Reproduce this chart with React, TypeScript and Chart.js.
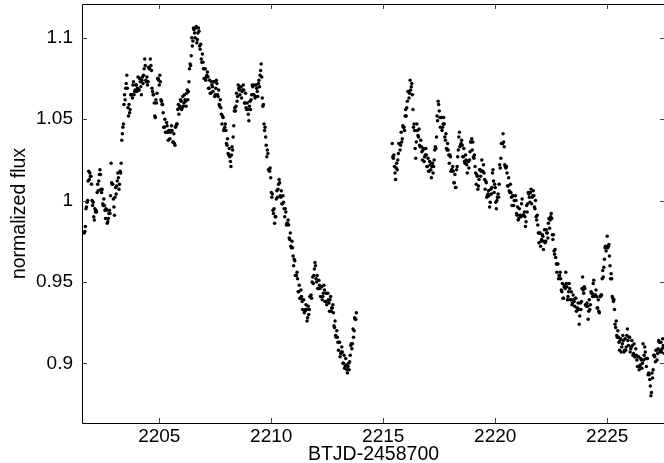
import { useEffect, useRef } from "react";
import Chart from "chart.js/auto";

// Light curve on a fixed cadence (days). Each orbit is stored as two interleaved
// sample runs (A on the grid, B half a step later); the orbits are split by a data gap.
const CADENCE = 0.05;

const ORBIT1_START_A = 2201.65;
const ORBIT1_FLUX_A = [
  0.980, 0.984, 0.996, 1.000, 1.018, 1.017, 1.015, 1.000, 0.999, 0.988,
  0.993, 0.993, 1.010, 1.012, 1.019, 1.007, 1.007, 0.997, 0.997, 0.989,
  0.994, 0.987, 0.992, 0.992, 1.023, 1.010, 1.001, 0.991, 1.008, 1.009,
  1.017, 1.007, 1.018, 1.023, 1.041, 1.047, 1.065, 1.069, 1.077, 1.057,
  1.059, 1.056, 1.065, 1.063, 1.073, 1.067, 1.071, 1.067, 1.076, 1.068,
  1.073, 1.065, 1.076, 1.077, 1.087, 1.074, 1.076, 1.073, 1.081, 1.087,
  1.080, 1.067, 1.065, 1.052, 1.062, 1.066, 1.075, 1.071, 1.073, 1.061,
  1.059, 1.045, 1.050, 1.042, 1.046, 1.037, 1.043, 1.042, 1.046, 1.036,
  1.041, 1.034, 1.046, 1.047, 1.059, 1.057, 1.062, 1.056, 1.064, 1.060,
  1.062, 1.058, 1.068, 1.067, 1.081, 1.083, 1.100, 1.098, 1.105, 1.100,
  1.107, 1.099, 1.106, 1.095, 1.096, 1.085, 1.085, 1.075, 1.081, 1.076,
  1.079, 1.069, 1.074, 1.066, 1.071, 1.067, 1.073, 1.065, 1.074, 1.065,
  1.068, 1.058, 1.057, 1.047, 1.051, 1.044, 1.047, 1.035, 1.038, 1.028,
  1.027, 1.021, 1.033, 1.039, 1.055, 1.055, 1.066, 1.064, 1.069, 1.065,
  1.070, 1.067, 1.071, 1.060, 1.066, 1.056, 1.056, 1.049, 1.061, 1.062,
  1.071, 1.065, 1.071, 1.064, 1.069, 1.064, 1.074, 1.077, 1.084, 1.063,
  1.059, 1.043, 1.039, 1.027, 1.029, 1.019, 1.020, 1.005, 1.004, 0.992,
  0.986, 0.990, 1.006, 1.007, 1.013, 1.003, 1.006, 0.998, 0.999, 0.990,
  0.993, 0.986, 0.988, 0.977, 0.980, 0.971, 0.971, 0.960, 0.963, 0.954,
  0.956, 0.944, 0.948, 0.940, 0.941, 0.933, 0.939, 0.932, 0.936, 0.926,
  0.935, 0.933, 0.941, 0.940, 0.953, 0.954, 0.962, 0.952, 0.954, 0.946,
  0.948, 0.941, 0.947, 0.941, 0.948, 0.938, 0.943, 0.938, 0.939, 0.932,
  0.941, 0.934, 0.936, 0.923, 0.926, 0.916, 0.916, 0.908, 0.913, 0.906,
  0.910, 0.900, 0.905, 0.898, 0.899, 0.894, 0.900, 0.901, 0.911, 0.909,
  0.921, 0.920, 0.927, 0.931,
];

const ORBIT1_START_B = 2201.675;
const ORBIT1_FLUX_B = [
  0.981, 0.995, 0.999, 1.012, 1.013, 1.015, 1.010, 0.997, 0.990, 0.995,
  0.994, 1.005, 1.006, 1.016, 1.016, 1.005, 0.998, 1.001, 0.994, 0.995,
  0.986, 0.989, 0.994, 1.003, 1.011, 1.010, 0.996, 1.002, 1.004, 1.012,
  1.014, 1.010, 1.017, 1.037, 1.045, 1.059, 1.062, 1.072, 1.069, 1.052,
  1.054, 1.065, 1.065, 1.071, 1.065, 1.068, 1.071, 1.069, 1.068, 1.075,
  1.070, 1.074, 1.072, 1.081, 1.083, 1.073, 1.071, 1.082, 1.081, 1.083,
  1.069, 1.065, 1.060, 1.051, 1.060, 1.075, 1.074, 1.077, 1.062, 1.059,
  1.054, 1.045, 1.042, 1.048, 1.042, 1.043, 1.038, 1.043, 1.043, 1.036,
  1.035, 1.045, 1.047, 1.056, 1.053, 1.058, 1.061, 1.057, 1.058, 1.065,
  1.061, 1.066, 1.062, 1.073, 1.084, 1.089, 1.095, 1.106, 1.103, 1.106,
  1.097, 1.103, 1.104, 1.093, 1.087, 1.090, 1.081, 1.081, 1.074, 1.077,
  1.076, 1.069, 1.066, 1.073, 1.070, 1.073, 1.064, 1.069, 1.072, 1.064,
  1.059, 1.062, 1.053, 1.052, 1.043, 1.045, 1.043, 1.034, 1.029, 1.032,
  1.024, 1.028, 1.031, 1.046, 1.057, 1.058, 1.061, 1.071, 1.068, 1.070,
  1.063, 1.068, 1.068, 1.060, 1.057, 1.060, 1.053, 1.058, 1.056, 1.065,
  1.070, 1.065, 1.063, 1.071, 1.067, 1.072, 1.070, 1.080, 1.076, 1.058,
  1.047, 1.045, 1.034, 1.031, 1.019, 1.018, 1.014, 1.002, 0.994, 0.995,
  0.990, 1.001, 1.002, 1.010, 1.011, 1.002, 0.998, 1.003, 0.995, 0.995,
  0.985, 0.986, 0.985, 0.976, 0.972, 0.975, 0.966, 0.964, 0.954, 0.954,
  0.952, 0.944, 0.940, 0.945, 0.938, 0.939, 0.931, 0.933, 0.933, 0.928,
  0.930, 0.941, 0.942, 0.950, 0.949, 0.958, 0.960, 0.950, 0.946, 0.951,
  0.946, 0.947, 0.939, 0.943, 0.945, 0.938, 0.936, 0.943, 0.937, 0.939,
  0.932, 0.934, 0.931, 0.922, 0.917, 0.920, 0.913, 0.913, 0.904, 0.907,
  0.907, 0.900, 0.897, 0.903, 0.896, 0.898, 0.896, 0.905, 0.912, 0.912,
  0.916, 0.928, 0.927,
];

const ORBIT2_START_A = 2215.4;
const ORBIT2_FLUX_A = [
  1.035, 1.026, 1.021, 1.013, 1.023, 1.025, 1.035, 1.031, 1.042, 1.038,
  1.045, 1.043, 1.056, 1.057, 1.067, 1.063, 1.074, 1.070, 1.065, 1.045,
  1.043, 1.026, 1.047, 1.040, 1.044, 1.033, 1.033, 1.025, 1.032, 1.027,
  1.032, 1.021, 1.026, 1.018, 1.022, 1.014, 1.023, 1.021, 1.031, 1.032,
  1.052, 1.061, 1.055, 1.045, 1.051, 1.045, 1.051, 1.039, 1.041, 1.031,
  1.031, 1.023, 1.027, 1.019, 1.021, 1.011, 1.016, 1.008, 1.021, 1.031,
  1.042, 1.034, 1.037, 1.027, 1.032, 1.023, 1.025, 1.017, 1.024, 1.025,
  1.036, 1.038, 1.036, 1.026, 1.021, 1.010, 1.015, 1.009, 1.019, 1.015,
  1.025, 1.018, 1.017, 1.007, 1.011, 1.003, 1.006, 0.996, 1.007, 1.008,
  1.019, 1.005, 1.008, 0.995, 1.002, 1.002, 1.022, 1.026, 1.035, 1.041,
  1.033, 1.021, 1.021, 1.009, 1.014, 1.005, 1.005, 0.997, 1.003, 1.000,
  1.003, 0.992, 0.996, 0.989, 0.991, 0.990, 1.001, 0.991, 0.993, 0.984,
  0.997, 0.998, 1.004, 0.999, 1.007, 1.002, 1.006, 0.996, 1.000, 0.988,
  0.985, 0.974, 0.980, 0.975, 0.979, 0.970, 0.982, 0.975, 0.980, 0.977,
  0.989, 0.988, 0.992, 0.979, 0.979, 0.967, 0.965, 0.956, 0.961, 0.954,
  0.956, 0.945, 0.949, 0.940, 0.948, 0.956, 0.947, 0.941, 0.949, 0.939,
  0.944, 0.937, 0.939, 0.935, 0.940, 0.934, 0.937, 0.924, 0.937, 0.938,
  0.953, 0.943, 0.946, 0.936, 0.937, 0.927, 0.939, 0.936, 0.943, 0.941,
  0.951, 0.942, 0.945, 0.934, 0.939, 0.931, 0.941, 0.942, 0.957, 0.959,
  0.971, 0.969, 0.978, 0.972, 0.966, 0.952, 0.952, 0.940, 0.939, 0.924,
  0.926, 0.916, 0.916, 0.908, 0.915, 0.910, 0.917, 0.907, 0.915, 0.910,
  0.921, 0.911, 0.916, 0.909, 0.914, 0.905, 0.912, 0.904, 0.905, 0.898,
  0.904, 0.898, 0.903, 0.897, 0.912, 0.905, 0.907, 0.898, 0.903, 0.894,
  0.890, 0.880, 0.894, 0.896, 0.905, 0.901, 0.908, 0.906, 0.914, 0.907,
  0.913, 0.909, 0.911, 0.906,
];

const ORBIT2_START_B = 2215.425;
const ORBIT2_FLUX_B = [
  1.027, 1.028, 1.017, 1.020, 1.019, 1.029, 1.035, 1.034, 1.036, 1.046,
  1.045, 1.052, 1.052, 1.061, 1.067, 1.066, 1.068, 1.072, 1.056, 1.047,
  1.032, 1.036, 1.043, 1.039, 1.034, 1.037, 1.030, 1.031, 1.024, 1.028,
  1.028, 1.021, 1.018, 1.024, 1.019, 1.021, 1.017, 1.025, 1.033, 1.039,
  1.049, 1.059, 1.051, 1.051, 1.043, 1.047, 1.047, 1.037, 1.032, 1.035,
  1.028, 1.028, 1.018, 1.019, 1.018, 1.011, 1.008, 1.019, 1.027, 1.039,
  1.033, 1.035, 1.034, 1.027, 1.024, 1.028, 1.022, 1.024, 1.020, 1.030,
  1.036, 1.031, 1.027, 1.028, 1.017, 1.016, 1.007, 1.013, 1.019, 1.018,
  1.018, 1.022, 1.013, 1.012, 1.002, 1.004, 1.003, 0.999, 1.004, 1.017,
  1.012, 1.010, 0.999, 1.000, 1.004, 1.010, 1.020, 1.035, 1.035, 1.036,
  1.022, 1.020, 1.017, 1.009, 1.006, 1.010, 1.002, 1.003, 0.997, 1.000,
  1.000, 0.991, 0.988, 0.995, 0.991, 0.998, 0.991, 0.991, 0.990, 0.987,
  0.993, 1.005, 1.002, 1.005, 0.998, 1.003, 1.003, 0.995, 0.990, 0.991,
  0.980, 0.980, 0.972, 0.976, 0.978, 0.975, 0.974, 0.982, 0.980, 0.986,
  0.983, 0.990, 0.989, 0.976, 0.969, 0.970, 0.961, 0.961, 0.952, 0.954,
  0.952, 0.944, 0.940, 0.947, 0.946, 0.949, 0.939, 0.944, 0.946, 0.939,
  0.936, 0.942, 0.938, 0.940, 0.932, 0.934, 0.933, 0.929, 0.933, 0.946,
  0.945, 0.947, 0.936, 0.935, 0.935, 0.932, 0.933, 0.944, 0.943, 0.949,
  0.941, 0.942, 0.941, 0.934, 0.932, 0.941, 0.942, 0.952, 0.953, 0.964,
  0.972, 0.971, 0.971, 0.973, 0.960, 0.955, 0.941, 0.938, 0.933, 0.922,
  0.917, 0.920, 0.913, 0.914, 0.907, 0.912, 0.914, 0.908, 0.908, 0.917,
  0.914, 0.916, 0.907, 0.910, 0.911, 0.906, 0.904, 0.909, 0.902, 0.904,
  0.896, 0.899, 0.902, 0.900, 0.902, 0.910, 0.903, 0.903, 0.893, 0.893,
  0.886, 0.882, 0.891, 0.905, 0.904, 0.908, 0.902, 0.909, 0.913, 0.908,
  0.907, 0.915, 0.910,
];

const X_TICKS = [2205, 2210, 2215, 2220, 2225];
const Y_TICKS = [0.9, 0.95, 1, 1.05, 1.1];
const X_MIN = 2201.55;
const X_MAX = 2227.58;
const Y_MIN = 0.8633;
const Y_MAX = 1.1208;

const X_TITLE = "BTJD-2458700";
const Y_TITLE = "normalized flux";

const FONT_FAMILY = "'Liberation Sans', Arial, Helvetica, sans-serif";

function toPoints(start: number, flux: number[]) {
  return flux.map((f, i) => ({ x: +(start + i * CADENCE).toFixed(3), y: f }));
}

// Box frame with inward ticks on all four sides, plus both axis titles.
const framePlugin = {
  id: "frameAndTitles",
  afterDraw(chart: any) {
    const { ctx, chartArea, scales } = chart;
    const { left, right, top, bottom } = chartArea;
    const tick = 5;
    ctx.save();
    ctx.strokeStyle = "#000";
    ctx.lineWidth = 1;
    ctx.beginPath();
    ctx.rect(Math.round(left) + 0.5, Math.round(top) + 0.5, Math.round(right - left), Math.round(bottom - top));
    ctx.stroke();

    ctx.strokeStyle = "#444";
    ctx.beginPath();
    for (const v of X_TICKS) {
      const px = Math.round(scales.x.getPixelForValue(v)) + 0.5;
      ctx.moveTo(px, bottom);
      ctx.lineTo(px, bottom - tick);
      ctx.moveTo(px, top);
      ctx.lineTo(px, top + tick);
    }
    for (const v of Y_TICKS) {
      const py = Math.round(scales.y.getPixelForValue(v)) + 0.5;
      ctx.moveTo(left, py);
      ctx.lineTo(left + tick, py);
      ctx.moveTo(right, py);
      ctx.lineTo(right - tick, py);
    }
    ctx.stroke();

    ctx.fillStyle = "#000";
    ctx.font = `19.5px ${FONT_FAMILY}`;
    ctx.textAlign = "center";
    ctx.textBaseline = "alphabetic";
    ctx.fillText(X_TITLE, (left + right) / 2, 460);

    ctx.translate(25, (top + bottom) / 2);
    ctx.rotate(-Math.PI / 2);
    ctx.fillText(Y_TITLE, 0, 0);
    ctx.restore();
  },
};

function zeroPadding(scale: any) {
  scale.paddingLeft = 0;
  scale.paddingRight = 0;
  scale.paddingTop = 0;
  scale.paddingBottom = 0;
}

export default function App() {
  const canvasRef = useRef<HTMLCanvasElement | null>(null);

  useEffect(() => {
    const canvas = canvasRef.current;
    if (!canvas) return;
    const points = [
      ...toPoints(ORBIT1_START_A, ORBIT1_FLUX_A),
      ...toPoints(ORBIT1_START_B, ORBIT1_FLUX_B),
      ...toPoints(ORBIT2_START_A, ORBIT2_FLUX_A),
      ...toPoints(ORBIT2_START_B, ORBIT2_FLUX_B),
    ];

    const chart = new Chart(canvas, {
      type: "scatter",
      data: {
        datasets: [
          {
            data: points,
            pointRadius: 1.75,
            pointHoverRadius: 0,
            pointBackgroundColor: "#000",
            pointBorderWidth: 0,
            borderWidth: 0,
          },
        ],
      },
      options: {
        animation: false,
        responsive: false,
        maintainAspectRatio: false,
        events: [],
        layout: { padding: { top: 4, right: 3, left: 0, bottom: 0 } },
        plugins: { legend: { display: false }, tooltip: { enabled: false }, title: { display: false } },
        scales: {
          x: {
            type: "linear",
            min: X_MIN,
            max: X_MAX,
            grid: { display: false, drawTicks: false },
            border: { display: false },
            ticks: {
              padding: 2,
              color: "#000",
              maxRotation: 0,
              autoSkip: false,
              font: { family: FONT_FAMILY, size: 19 },
              callback: (v: any) => String(v),
            },
            afterBuildTicks: (s: any) => {
              s.ticks = X_TICKS.map((v) => ({ value: v }));
            },
            afterFit: (s: any) => {
              s.height = 40;
              zeroPadding(s);
            },
          },
          y: {
            type: "linear",
            min: Y_MIN,
            max: Y_MAX,
            grid: { display: false, drawTicks: false },
            border: { display: false },
            ticks: {
              padding: 9,
              color: "#000",
              autoSkip: false,
              font: { family: FONT_FAMILY, size: 19 },
              callback: (v: any) => String(v),
            },
            afterBuildTicks: (s: any) => {
              s.ticks = Y_TICKS.map((v) => ({ value: v }));
            },
            afterFit: (s: any) => {
              s.width = 82;
              zeroPadding(s);
            },
          },
        },
      },
      plugins: [framePlugin],
    });

    return () => chart.destroy();
  }, []);

  return (
    <div
      style={{
        position: "fixed",
        left: 0,
        top: 0,
        width: 664,
        height: 463,
        overflow: "hidden",
        background: "#fff",
      }}
    >
      <canvas ref={canvasRef} width={668} height={463} style={{ display: "block" }} />
    </div>
  );
}
